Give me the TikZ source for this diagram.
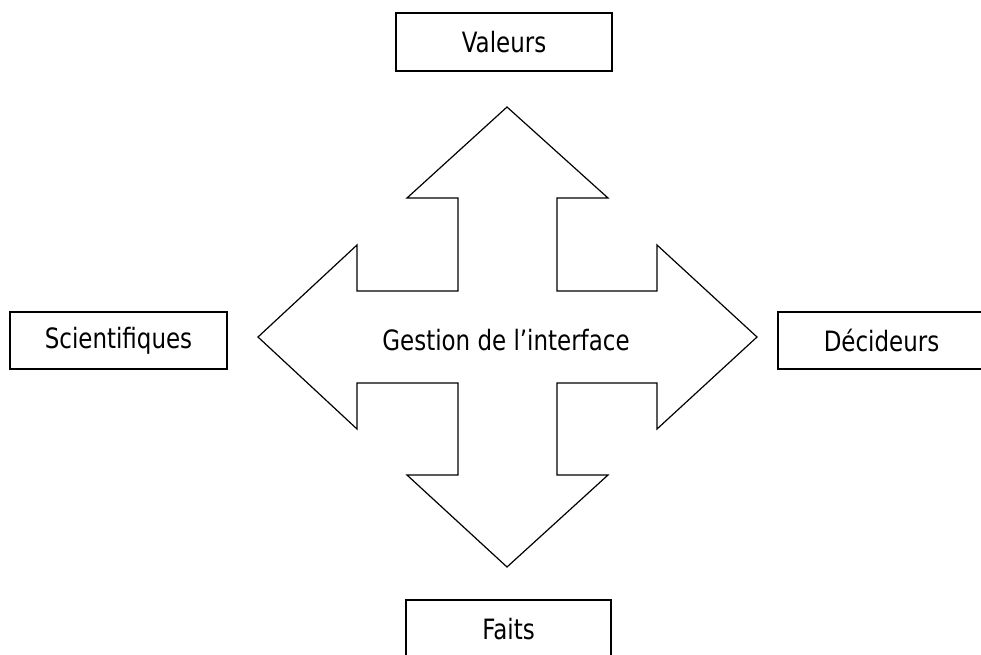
\documentclass[tikz,border=0pt]{standalone}
\usepackage{fontspec}
\setmainfont{DejaVu Sans}[FakeStretch=0.82]
\begin{document}
\begin{tikzpicture}[x=1pt,y=-1pt,
  every node/.style={font=\fontsize{28}{32}\selectfont},
  box/.style={draw, line width=1.4pt, inner sep=0pt},
  cross/.style={draw, line width=1.2pt, line join=miter}]
\useasboundingbox (0,0) rectangle (981,654);
\node[box, minimum width=216pt, minimum height=58pt] (val) at (504,42) {Valeurs};
\node[box, minimum width=217pt, minimum height=57pt] (sci) at (118.5,340.5) {Scientifiques};
\node[box, minimum width=207pt, minimum height=57pt] (dec) at (881.5,340.5) {Décideurs};
\node[box, minimum width=205pt, minimum height=58pt] (fai) at (508.5,629) {Faits};
\draw[cross] (507,107) -- (608,198) -- (557,198) -- (557,291) -- (657,291) -- (657,245)
  -- (757,337) -- (657,429) -- (657,383) -- (557,383) -- (557,475) -- (608,475)
  -- (507,567) -- (407,475) -- (458,475) -- (458,383) -- (357,383) -- (357,429)
  -- (258,337) -- (357,245) -- (357,291) -- (458,291) -- (458,198) -- (407,198) -- cycle;
\node (ges) at (506,340) {Gestion de l’interface};
\end{tikzpicture}
\end{document}
